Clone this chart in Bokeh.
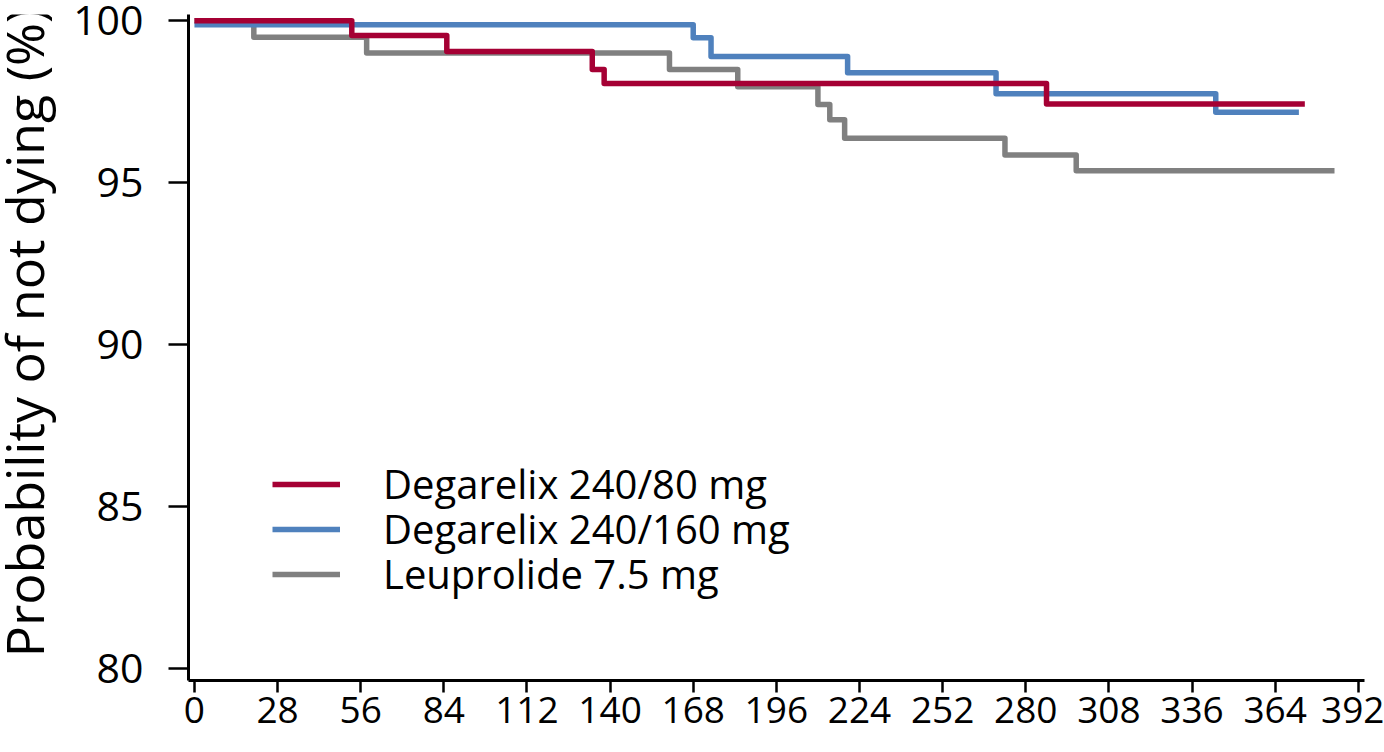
import math
from bokeh.plotting import figure
from bokeh.layouts import row
from bokeh.models import Range1d, FixedTicker, Legend, LegendItem
from bokeh.core.properties import value
from bokeh.embed import file_html
from bokeh.resources import INLINE

# Kaplan-Meier style survival steps (day of event, survival % after event)
red_days = [0, 53, 85, 134, 138, 287, 374]
red_surv = [100.0, 99.54, 99.05, 98.49, 98.06, 97.43, 97.43]

blue_days = [0, 168, 174, 220, 270, 344, 372]
blue_surv = [99.87, 99.47, 98.89, 98.39, 97.74, 97.17, 97.17]

gray_days = [0, 20, 58, 160, 183, 210, 214, 219, 273, 297, 384]
gray_surv = [100.0, 99.49, 99.0, 98.49, 97.96, 97.41, 96.94, 96.37, 95.85, 95.37, 95.37]

series_names = ["Degarelix 240/80 mg", "Degarelix 240/160 mg", "Leuprolide 7.5 mg"]
series_colors = ["#A50034", "#4F81BD", "#808080"]

x_ticks = [0, 28, 56, 84, 112, 140, 168, 196, 224, 252, 280, 308, 336, 364, 392]
y_ticks = [80, 85, 90, 95, 100]
y_title = "Probability of not dying (%)"

FONT = "Open Sans"
W, H = 1384, 752
STRIP_W = 70                 # narrow strip holding the vertical axis title
FRAME_LEFT, FRAME_TOP, FRAME_BOTTOM = 188, 14, 680

# --- title strip (no axes, pixel-sized ranges) ---------------------------
t = figure(
    width=STRIP_W, height=H, output_backend="svg", toolbar_location=None,
    x_axis_type=None, y_axis_type=None,
    x_range=Range1d(0, STRIP_W), y_range=Range1d(0, H),
    min_border=0, min_border_left=0, min_border_right=0,
    min_border_top=0, min_border_bottom=0,
)
t.grid.visible = False
t.outline_line_color = None
t.border_fill_color = "white"
t.background_fill_color = "white"
# anchor chosen so the rotated text box sits just left of the tick labels
t.text(x=[23], y=[393], text=[y_title], angle=math.pi / 2,
       text_align="center", text_baseline="alphabetic",
       text_font=value(FONT), text_font_size="52px", text_color="black")

# --- main chart ----------------------------------------------------------
p = figure(
    width=W - STRIP_W, height=H,
    output_backend="svg", toolbar_location=None,
    x_range=Range1d(-2.0, 394.1), y_range=Range1d(79.63, 100.19),
    min_border_left=FRAME_LEFT - STRIP_W, min_border_right=20,
    min_border_top=FRAME_TOP, min_border_bottom=H - FRAME_BOTTOM,
)
p.outline_line_color = None
p.grid.visible = False
p.background_fill_color = "white"
p.border_fill_color = "white"

# curves: gray underneath, red on top
LW = 5.5
r_gray = p.step(gray_days, gray_surv, mode="after", line_color=series_colors[2],
                line_width=LW, line_join="round")
r_blue = p.step(blue_days, blue_surv, mode="after", line_color=series_colors[1],
                line_width=LW, line_join="round")
r_red = p.step(red_days, red_surv, mode="after", line_color=series_colors[0],
               line_width=LW, line_join="round")

# axes
xa = p.xaxis[0]
xa.ticker = FixedTicker(ticks=x_ticks)
xa.minor_tick_line_color = None
xa.major_tick_in = 0
xa.major_tick_out = 12
xa.major_tick_line_width = 2.5
xa.axis_line_width = 3
xa.major_label_text_font = FONT
xa.major_label_text_font_size = "37px"
xa.major_label_text_color = "black"
xa.major_label_standoff = 4

ya = p.yaxis[0]
ya.ticker = FixedTicker(ticks=y_ticks)
ya.minor_tick_line_color = None
ya.major_tick_in = 0
ya.major_tick_out = 20
ya.major_tick_line_width = 2.5
ya.axis_line_width = 3
ya.major_label_text_font = FONT
ya.major_label_text_font_size = "41px"
ya.major_label_text_color = "black"
ya.major_label_standoff = 25

# legend: one block per row so the row pitch can be set exactly
ROW_H = 54
row_centers_px = [484, 529, 574]   # screen rows of the legend entries
for name, rend, cy in zip(series_names, [r_red, r_blue, r_gray], row_centers_px):
    lg = Legend(
        items=[LegendItem(label=name, renderers=[rend])],
        location=(84, FRAME_BOTTOM - cy - ROW_H // 2),
        padding=0, margin=0, spacing=0,
        glyph_width=68, glyph_height=ROW_H, label_height=ROW_H,
        label_standoff=43,
        label_text_font=FONT, label_text_font_size="40px",
        label_text_color="black",
        border_line_color=None, background_fill_alpha=0,
    )
    p.add_layout(lg)

layout = row(t, p, spacing=0)
open("out.html", "w").write(file_html(layout, INLINE))
